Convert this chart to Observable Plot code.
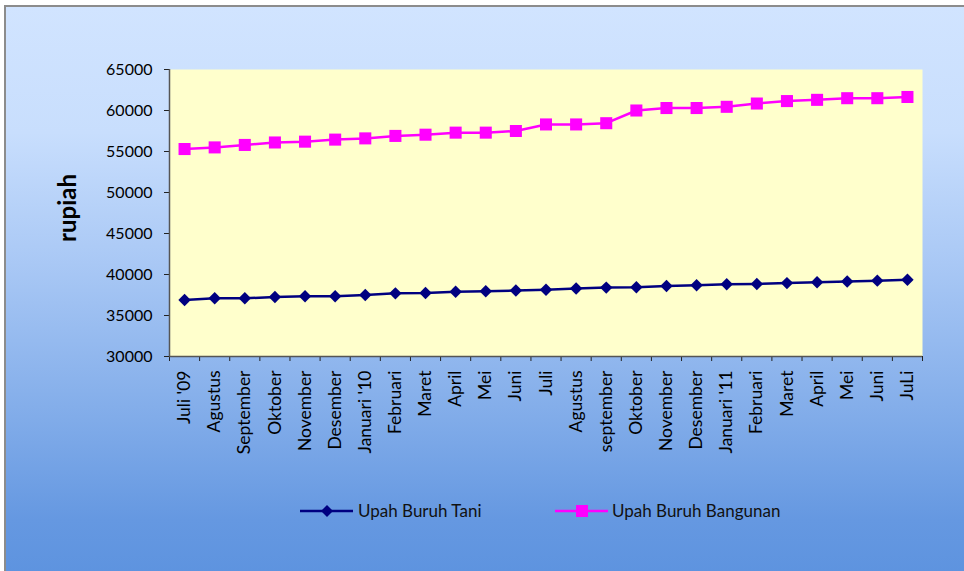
<!DOCTYPE html>
<html><head><meta charset="utf-8">
<script src="https://cdn.jsdelivr.net/npm/d3@7"></script>
<script src="https://cdn.jsdelivr.net/npm/@observablehq/plot@0.6"></script>
<style>
html,body{margin:0;padding:0;background:#fff;width:964px;height:571px;overflow:hidden;}
#bg{position:absolute;left:4px;top:5px;width:962px;height:570px;border-left:2px solid #8c8c8c;border-top:2px solid #8c8c8c;
background:linear-gradient(to bottom,#d1e4ff 0%,#c8defd 22%,#a9c8f5 45%,#84aeea 70%,#6598e1 90%,#5d93df 100%);}
#plot{position:absolute;left:0;top:0;}
.leg{position:absolute;top:500px;font-family:Lato,"Open Sans",sans-serif;font-size:17px;color:#111;line-height:22px;white-space:nowrap;}
.leg svg{position:absolute;left:0;top:0;}
</style></head>
<body>
<div id="bg"></div>
<div id="plot"></div>
<div id="legend"></div>
<script>
const months = ["Juli '09","Agustus","September","Oktober","November","Desember","Januari '10","Februari","Maret","April","Mei","Juni","Juli","Agustus","september","Oktober","November","Desember","Januari '11","Februari","Maret","April","Mei","Juni","JuLi"];
const tani = [36900,37100,37100,37250,37350,37350,37500,37700,37750,37900,37950,38050,38150,38300,38400,38450,38600,38700,38800,38850,38950,39050,39150,39250,39350];
const bangunan = [55300,55500,55800,56100,56200,56450,56600,56900,57050,57300,57300,57500,58300,58300,58450,60000,60300,60300,60450,60850,61150,61300,61500,61500,61650];
const yTicks = [30000,35000,40000,45000,50000,55000,60000,65000];
const seriesNames = ["Upah Buruh Tani","Upah Buruh Bangunan"];
const seriesColors = ["#000080","#ff00ff"];

const taniData = tani.map((v,i)=>({i:i+0.5, v}));
const bangData = bangunan.map((v,i)=>({i:i+0.5, v}));

const chart = Plot.plot({
  width: 964, height: 480,
  marginLeft: 169, marginRight: 42, marginTop: 69, marginBottom: 124,
  style: {background:"transparent", fontFamily:"Lato, 'Open Sans', sans-serif", color:"#000"},
  x: {type:"linear", domain:[0, months.length], axis:null},
  y: {domain:[30000,65000], axis:null},
  marks: [
    Plot.frame({fill:"#ffffcc", stroke:null}),
    Plot.axisY({ticks:yTicks, tickSize:5, tickPadding:12, tickFormat:d=>String(d), fontSize:16, label:null, stroke:"#222"}),
    Plot.axisX({ticks:d3.range(months.length+1), tickSize:5, tickFormat:()=> "", label:null, stroke:"#222"}),
    Plot.axisX({ticks:months.map((m,i)=>i+0.5), tickSize:0, tickPadding:14, tickRotate:-90, tickFormat:d=>months[Math.floor(d)], fontSize:17.5, label:null}),
    Plot.ruleX([0], {stroke:"#555", strokeWidth:1.5}),
    Plot.ruleY([30000], {stroke:"#555", strokeWidth:1.5}),
    Plot.line(taniData, {x:"i", y:"v", stroke:seriesColors[0], strokeWidth:2.5}),
    Plot.dot(taniData, {x:"i", y:"v", symbol:d3.symbolDiamond2, r:5.6, fill:seriesColors[0], stroke:null}),
    Plot.line(bangData, {x:"i", y:"v", stroke:seriesColors[1], strokeWidth:2.5}),
    Plot.dot(bangData, {x:"i", y:"v", symbol:"square", r:6.8, fill:seriesColors[1], stroke:null}),
    Plot.text(["rupiah"], {frameAnchor:"left", textAnchor:"middle", dx:-101, dy:-5, rotate:-90, fontWeight:"bold", fontSize:24, fill:"#000"})
  ]
});
document.getElementById("plot").appendChild(chart);

// legend
const legend = document.getElementById("legend");
const legPos = [{line:300, text:358}, {line:555, text:612}];
seriesNames.forEach((name,k)=>{
  const p = legPos[k];
  const div = document.createElement("div");
  div.className = "leg";
  div.style.left = p.line + "px";
  const marker = k===0
    ? `<path d="M27,5 L33,11 L27,17 L21,11 Z" fill="${seriesColors[0]}"/>`
    : `<rect x="21" y="5" width="12" height="12" fill="${seriesColors[1]}"/>`;
  div.innerHTML = `<svg width="54" height="22"><line x1="0" x2="53" y1="11" y2="11" stroke="${seriesColors[k]}" stroke-width="2.5"/>${marker}</svg><span style="position:absolute;left:${p.text-p.line}px;top:0">${name}</span>`;
  legend.appendChild(div);
});
</script>
</body></html>
